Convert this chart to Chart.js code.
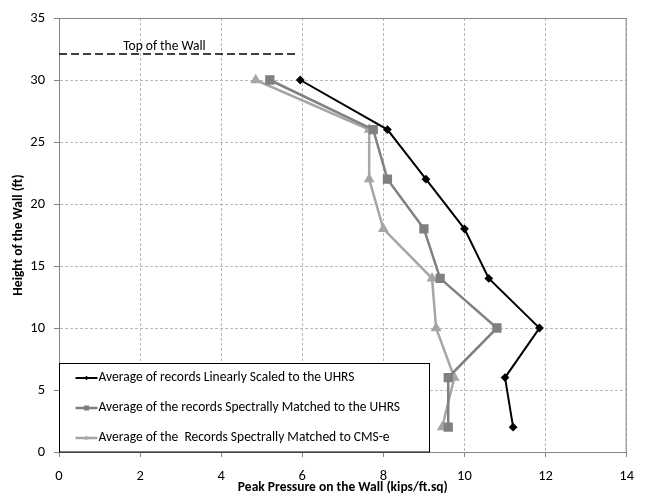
<!DOCTYPE html>
<html>
<head>
<meta charset="utf-8">
<script src="https://cdn.jsdelivr.net/npm/chart.js@4"></script>
<style>
  html, body { margin: 0; padding: 0; background: #fff; }
  #wrap { width: 645px; height: 504px; }
</style>
</head>
<body>
<div id="wrap"><canvas id="myChart" width="645" height="504"></canvas></div>
<script>
// wall heights (ft) and peak pressures (kips/ft.sq)
const heights = [30, 26, 22, 18, 14, 10, 6, 2];
const linearUHRS = [5.95, 8.1, 9.05, 10.0, 10.6, 11.85, 11.0, 11.2];
const matchedUHRS = [5.2, 7.75, 8.1, 9.0, 9.4, 10.8, 9.6, 9.6];
const matchedCMS = [4.85, 7.65, 7.65, 8.0, 9.2, 9.3, 9.75, 9.45];
const seriesLabels = [
    'Average of records Linearly Scaled to the UHRS',
    'Average of the records Spectrally Matched to the UHRS',
    'Average of the  Records Spectrally Matched to CMS-e'
];
const wallTop = 32.1;
const wallLineX = [0, 5.85];
const wallLabel = 'Top of the Wall';
const wallLabelX = 2.6;
const xRange = [0, 14, 2];
const yRange = [0, 35, 5];

const FONT = "Carlito, 'Liberation Sans', sans-serif";

function toPoints(xs) {
    return xs.map((x, i) => ({ x: x, y: heights[i] }));
}

// frame around plot area, plus the "Top of the Wall" label
const framePlugin = {
    id: 'frame',
    beforeDatasetsDraw(chart) {
        const { ctx, chartArea: a } = chart;
        ctx.save();
        ctx.strokeStyle = '#868686';
        ctx.lineWidth = 1;
        ctx.strokeRect(a.left + 0.5, a.top + 0.5, a.right - a.left - 1, a.bottom - a.top);
        const xs = chart.scales.x, ys = chart.scales.y;
        ctx.fillStyle = '#000';
        ctx.font = '13.5px ' + FONT;
        ctx.textAlign = 'center';
        ctx.textBaseline = 'bottom';
        ctx.fillText(wallLabel, xs.getPixelForValue(wallLabelX), ys.getPixelForValue(wallTop) - 1);
        ctx.restore();
    }
};

// Excel-style legend box in the lower left of the plot
const legendPlugin = {
    id: 'boxLegend',
    afterDraw(chart) {
        const { ctx, chartArea: a } = chart;
        const left = a.left + 0.5, bottom = a.bottom;
        const w = 370, h = 89;
        const top = bottom - h;
        ctx.save();
        ctx.fillStyle = '#fff';
        ctx.fillRect(left, top, w, h);
        ctx.strokeStyle = '#000';
        ctx.lineWidth = 1;
        ctx.strokeRect(left, top + 0.5, w, h - 0.5);
        ctx.font = '13.5px ' + FONT;
        ctx.textBaseline = 'middle';
        ctx.textAlign = 'left';
        chart.data.datasets.slice(0, 3).forEach((ds, i) => {
            const y = top + 15 + i * 30;
            const x0 = left + 16, x1 = left + 38;
            ctx.strokeStyle = ds.borderColor;
            ctx.lineWidth = ds.borderWidth;
            ctx.beginPath();
            ctx.moveTo(x0, y);
            ctx.lineTo(x1, y);
            ctx.stroke();
            ctx.fillStyle = ds.borderColor;
            Chart.helpers.drawPoint(ctx, {
                pointStyle: ds.pointStyle, radius: ds.pointRadius * 0.75, borderWidth: 0
            }, (x0 + x1) / 2, y);
            ctx.fillStyle = '#000';
            ctx.fillText(ds.label, x1 + 1, y);
        });
        ctx.restore();
    }
};

const ctx = document.getElementById('myChart');
new Chart(ctx, {
    type: 'scatter',
    data: {
        datasets: [{
            label: seriesLabels[0],
            data: toPoints(linearUHRS),
            showLine: true,
            borderColor: '#000000',
            backgroundColor: '#000000',
            borderWidth: 2,
            pointStyle: 'rectRot',
            pointRadius: 3
        }, {
            label: seriesLabels[1],
            data: toPoints(matchedUHRS),
            showLine: true,
            borderColor: '#808080',
            backgroundColor: '#808080',
            borderWidth: 2.5,
            pointStyle: 'rect',
            pointRadius: 4.8
        }, {
            label: seriesLabels[2],
            data: toPoints(matchedCMS),
            showLine: true,
            borderColor: '#a6a6a6',
            backgroundColor: '#a6a6a6',
            borderWidth: 2.5,
            pointStyle: 'triangle',
            pointRadius: 3.8
        }, {
            label: wallLabel,
            data: wallLineX.map(x => ({ x: x, y: wallTop })),
            showLine: true,
            borderColor: '#000000',
            borderWidth: 1.5,
            borderDash: [8, 4],
            pointRadius: 0
        }]
    },
    options: {
        responsive: false,
        animation: false,
        layout: { padding: { left: 0, right: 8, top: 18, bottom: 0 } },
        plugins: {
            legend: { display: false },
            tooltip: { enabled: false }
        },
        scales: {
            x: {
                type: 'linear',
                min: xRange[0], max: xRange[1],
                ticks: { stepSize: xRange[2], color: '#000', padding: 11, font: { family: FONT, size: 14.5 } },
                grid: { color: '#b8b8b8', tickColor: '#868686', tickLength: 5, tickBorderDash: [] },
                border: { dash: [3, 2], color: '#868686' },
                title: {
                    display: true, text: 'Peak Pressure on the Wall (kips/ft.sq)', color: '#000',
                    font: { family: FONT, size: 13.5, weight: 'bold' }, padding: { top: 0, bottom: 8 }
                },
                afterFit(scale) { scale.height = 52; }
            },
            y: {
                type: 'linear',
                min: yRange[0], max: yRange[1],
                ticks: { stepSize: yRange[2], color: '#000', padding: 9, font: { family: FONT, size: 14.5 } },
                grid: { color: '#b8b8b8', tickColor: '#868686', tickLength: 5, tickBorderDash: [] },
                border: { dash: [3, 2], color: '#868686' },
                title: {
                    display: true, text: 'Height of the Wall (ft)', color: '#000',
                    font: { family: FONT, size: 13.5, weight: 'bold' }, padding: { top: 11, bottom: 0 }
                },
                afterFit(scale) { scale.width = 59; }
            }
        }
    },
    plugins: [framePlugin, legendPlugin]
});
</script>
</body>
</html>
